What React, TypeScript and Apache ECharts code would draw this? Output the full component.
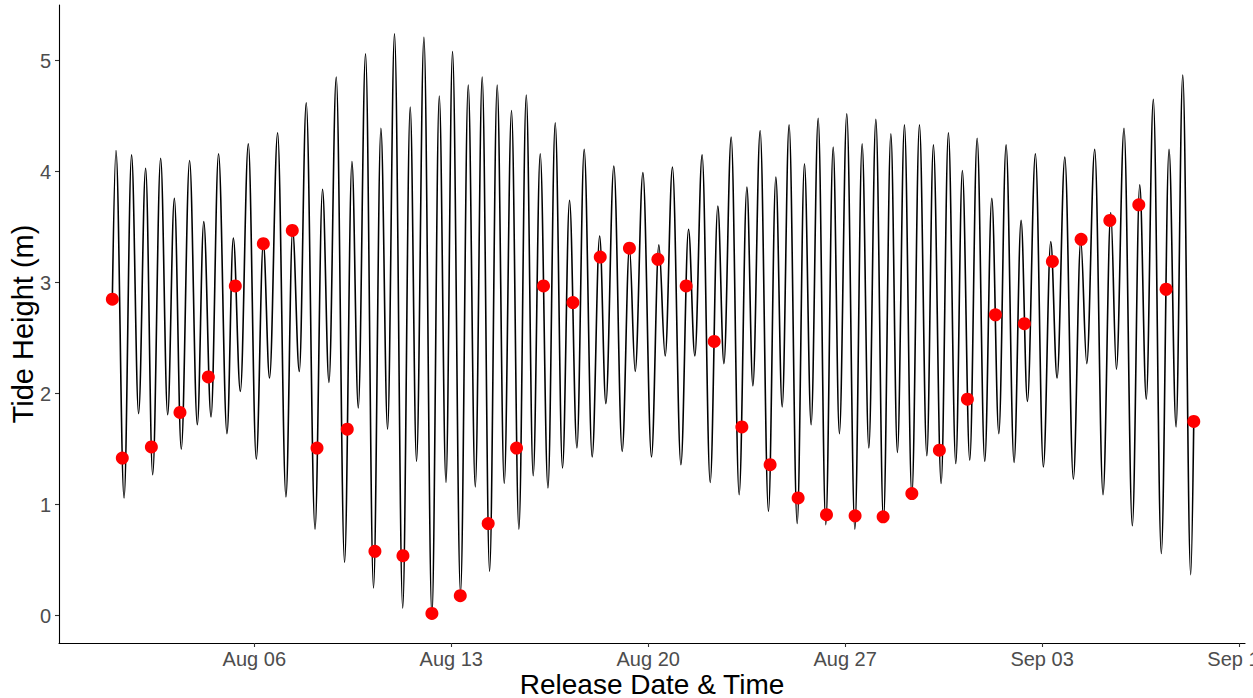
import React, { useEffect, useRef } from "react";
import * as echarts from "echarts";

// Time base: 31 Jul 2020 00:00 (UTC); all times below are hours after it.
const BASE_MS = Date.UTC(2020, 6, 31, 0, 0);
const HOUR_MS = 3600000;

// Axis window (hours after base)
const X_MIN_HOURS = -22.6;
const X_MAX_HOURS = 989.1;
const Y_MIN = -0.246;
const Y_MAX = 5.5;

// Tide curve, read as successive highs and lows (hours, metres)
const tideHours = [
  22.9,
  26.0, 32.9, 39.3, 45.3, 51.3, 57.3, 64.1, 70.1, 75.8, 81.7,
  88.8, 95.4, 100.9, 107.1, 113.5, 120.7, 126.1, 132.1, 138.9, 145.7,
  151.7, 157.0, 163.9, 171.0, 176.7, 182.4, 188.3, 195.8, 202.2, 207.7,
  213.9, 221.0, 227.3, 232.7, 238.9, 245.7, 252.0, 257.7, 263.6, 270.6,
  277.0, 282.4, 288.7, 295.5, 301.8, 307.5, 313.1, 319.9, 326.5, 332.5,
  338.4, 344.7, 351.2, 357.2, 363.4, 369.7, 376.0, 381.9, 387.9, 394.5,
  400.7, 406.9, 412.9, 419.2, 425.4, 432.2, 438.6, 443.9, 450.7, 457.8,
  464.0, 468.9, 475.5, 482.8, 489.1, 494.5, 500.7, 507.9, 514.4, 519.8,
  526.0, 532.9, 539.4, 544.6, 550.8, 557.6, 564.2, 569.3, 575.5, 582.6,
  588.9, 594.3, 600.2, 607.1, 613.3, 619.0, 625.0, 631.5, 637.8, 643.1,
  649.4, 656.3, 662.5, 668.2, 674.2, 680.7, 687.0, 692.6, 698.6, 704.9,
  711.4, 717.7, 723.3, 729.9, 736.1, 742.4, 748.0, 754.3, 760.6, 767.1,
  773.1, 779.1, 785.3, 792.1, 798.1, 803.5, 810.3, 817.1, 823.4, 828.8,
  835.4, 842.7, 849.0, 854.1, 860.9, 868.0, 874.6, 879.4, 885.9, 893.0,
  899.3, 904.9, 910.9, 917.7, 924.3, 930.3, 936.0, 942.8,
  945.4,
];
const tideHeights = [
  2.85,
  4.19, 1.06, 4.15, 1.82, 4.03, 1.27, 4.12, 1.81, 3.76, 1.50,
  4.10, 1.72, 3.55, 1.79, 4.16, 1.64, 3.40, 2.02, 4.25, 1.41,
  3.36, 2.14, 4.35, 1.07, 3.47, 2.20, 4.62, 0.78, 3.84, 2.10,
  4.85, 0.48, 4.09, 1.87, 5.06, 0.25, 4.39, 1.68, 5.24, 0.07,
  4.58, 1.39, 5.21, 0.00, 4.68, 1.20, 5.08, 0.20, 4.78, 1.16,
  4.85, 0.40, 4.78, 1.19, 4.55, 0.78, 4.69, 1.26, 4.16, 1.15,
  4.44, 1.33, 3.74, 1.51, 4.20, 1.43, 3.42, 1.91, 4.05, 1.48,
  3.32, 2.20, 3.99, 1.43, 3.34, 2.34, 4.04, 1.36, 3.48, 2.34,
  4.15, 1.20, 3.69, 2.27, 4.31, 1.09, 3.86, 2.07, 4.37, 0.94,
  3.95, 1.88, 4.42, 0.83, 4.07, 1.72, 4.48, 0.82, 4.22, 1.64,
  4.52, 0.78, 4.25, 1.51, 4.47, 0.85, 4.34, 1.47, 4.42, 1.08,
  4.42, 1.44, 4.24, 1.19, 4.35, 1.37, 4.01, 1.40, 4.30, 1.39,
  3.76, 1.64, 4.24, 1.38, 3.56, 1.93, 4.16, 1.34, 3.37, 2.14,
  4.13, 1.23, 3.38, 2.27, 4.20, 1.09, 3.63, 2.22, 4.39, 0.81,
  3.88, 1.95, 4.65, 0.56, 4.20, 1.70, 4.87, 0.37,
  1.76,
];

// Releases (red points)
const releaseHours = [
  22.9, 31.4, 56.2, 80.6, 104.8, 127.8, 151.7, 176.4, 197.5, 223.3,
  246.9, 270.8, 295.5, 319.7, 343.5, 367.7, 390.7, 415.8, 439.1, 464.0,
  488.3, 512.4, 536.3, 559.9, 584.0, 607.9, 632.1, 656.5, 680.4, 704.9,
  728.4, 752.3, 776.2, 800.9, 824.8, 849.3, 873.8, 898.5, 921.8, 945.4,
];
const releaseHeights = [
  2.85, 1.42, 1.52, 1.83, 2.15, 2.97, 3.35, 3.47, 1.51, 1.68,
  0.58, 0.54, 0.02, 0.18, 0.83, 1.51, 2.97, 2.82, 3.23, 3.31,
  3.21, 2.97, 2.47, 1.70, 1.36, 1.06, 0.91, 0.90, 0.89, 1.10,
  1.49, 1.95, 2.71, 2.63, 3.19, 3.39, 3.56, 3.70, 2.94, 1.75,
];

// Axis ticks
const xTickHours = [144, 312, 480, 648, 816, 984];
const xTickLabels = ["Aug 06", "Aug 13", "Aug 20", "Aug 27", "Sep 03", "Sep 10"];
const yTicks = [0, 1, 2, 3, 4, 5];

const toMs = (h: number) => BASE_MS + h * HOUR_MS;

export default function App() {
  const ref = useRef<HTMLDivElement>(null);

  useEffect(() => {
    if (!ref.current) return;
    const chart = echarts.init(ref.current, null, { renderer: "svg" });
    const font = "'Liberation Sans', Arial, sans-serif";
    const tickMs = xTickHours.map(toMs);
    const tide = tideHours.map((h, i) => [toMs(h), tideHeights[i]]);
    const rel = releaseHours.map((h, i) => [toMs(h), releaseHeights[i]]);

    chart.setOption({
      animation: false,
      backgroundColor: "#ffffff",
      grid: {
        left: 59,
        right: 8,
        top: 5,
        bottom: 55,
        containLabel: false,
        outerBoundsMode: "none",
      },
      xAxis: {
        type: "value",
        min: toMs(X_MIN_HOURS),
        max: toMs(X_MAX_HOURS),
        name: "Release Date & Time",
        nameLocation: "middle",
        nameGap: 27,
        nameMoveOverlap: false,
        nameTextStyle: { fontFamily: font, fontSize: 28, lineHeight: 28, color: "#000000" },
        axisLine: { show: true, onZero: false, lineStyle: { color: "#000000", width: 1.1 } },
        axisTick: {
          show: true,
          length: 4,
          customValues: tickMs,
          lineStyle: { color: "#333333", width: 1.1 },
        },
        axisLabel: {
          customValues: tickMs,
          formatter: (v: number) => {
            const i = tickMs.findIndex((t) => Math.abs(t - v) < 1000);
            return i >= 0 ? xTickLabels[i] : "";
          },
          fontFamily: font,
          fontSize: 20,
          lineHeight: 20,
          color: "#4d4d4d",
          margin: 6,
        },
        splitLine: { show: false },
      },
      yAxis: {
        type: "value",
        min: Y_MIN,
        max: Y_MAX,
        name: "Tide Height (m)",
        nameLocation: "middle",
        nameGap: 22,
        nameMoveOverlap: false,
        nameTextStyle: { fontFamily: font, fontSize: 29, color: "#000000" },
        axisLine: { show: true, onZero: false, lineStyle: { color: "#000000", width: 1.1 } },
        axisTick: {
          show: true,
          length: 4,
          customValues: yTicks,
          lineStyle: { color: "#333333", width: 1.1 },
        },
        axisLabel: {
          customValues: yTicks,
          formatter: (v: number) => String(Math.round(v)),
          fontFamily: font,
          fontSize: 20,
          color: "#4d4d4d",
          margin: 8,
        },
        splitLine: { show: false },
      },
      series: [
        {
          type: "line",
          data: tide,
          smooth: 0.36,
          smoothMonotone: "x",
          symbol: "none",
          showSymbol: false,
          lineStyle: { color: "#000000", width: 1.6 },
          z: 2,
        },
        {
          type: "scatter",
          data: rel,
          symbol: "circle",
          symbolSize: 13,
          itemStyle: { color: "#ff0000", opacity: 1 },
          z: 3,
        },
      ],
    });

    return () => chart.dispose();
  }, []);

  return (
    <div
      ref={ref}
      style={{ position: "absolute", left: 0, top: 0, width: 1253, height: 698 }}
    />
  );
}
